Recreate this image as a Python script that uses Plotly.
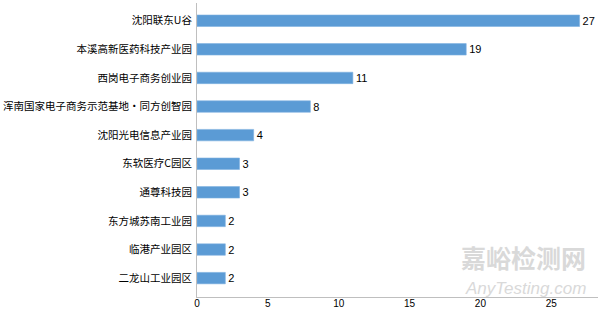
import plotly.graph_objects as go

categories = ["沈阳联东U谷", "本溪高新医药科技产业园", "西岗电子商务创业园",
              "浑南国家电子商务示范基地・同方创智园", "沈阳光电信息产业园",
              "东软医疗C园区", "通尊科技园", "东方城苏南工业园", "临港产业园区", "二龙山工业园区"]
values = [27, 19, 11, 8, 4, 3, 3, 2, 2, 2]
x_ticks = [0, 5, 10, 15, 20, 25]

FONT = "Noto Sans CJK SC, Microsoft YaHei, sans-serif"

fig = go.Figure(go.Bar(
    x=values, y=categories, orientation="h",
    marker=dict(color="#5B9BD5", line=dict(color="#7FB2E0", width=0.6)),
    width=0.4,
    text=[str(v) for v in values], textposition="outside",
    textfont=dict(size=11, color="#000000", family="Liberation Sans, Arial, sans-serif"),
    constraintext="none",
    cliponaxis=False,
))

n = len(categories)
fig.update_layout(
    width=600, height=310,
    margin=dict(l=197, r=2, t=3, b=13),
    paper_bgcolor="white", plot_bgcolor="white",
    showlegend=False,
    font=dict(family=FONT, size=11, color="#000000"),
    xaxis=dict(range=[0, 28.3], tickvals=x_ticks, showgrid=False, zeroline=False,
               showline=True, linecolor="#BFBFBF", linewidth=1,
               ticks="", ticklabelstandoff=-3,
               tickfont=dict(size=10, color="#000000", family="Liberation Sans, Arial, sans-serif"),
               automargin=False),
    yaxis=dict(range=[n - 1 + 0.66, -0.62], showgrid=False, zeroline=False,
               showline=True, linecolor="#BFBFBF", linewidth=1,
               ticks="", ticklabelstandoff=2,
               tickfont=dict(size=10.5, color="#000000"), automargin=False),
    annotations=[
        dict(text="<b>嘉峪检测网</b>", x=0.975, y=0.135, xref="paper", yref="paper",
             xanchor="right", yanchor="middle", showarrow=False,
             font=dict(size=25, color="#D9D9D9", family=FONT)),
        dict(text="<i>AnyTesting.com</i>", x=0.975, y=0.03, xref="paper", yref="paper",
             xanchor="right", yanchor="middle", showarrow=False,
             font=dict(size=17, color="#D9D9D9", family="Liberation Sans, Arial, sans-serif")),
    ],
)

fig.write_html("out.html")
